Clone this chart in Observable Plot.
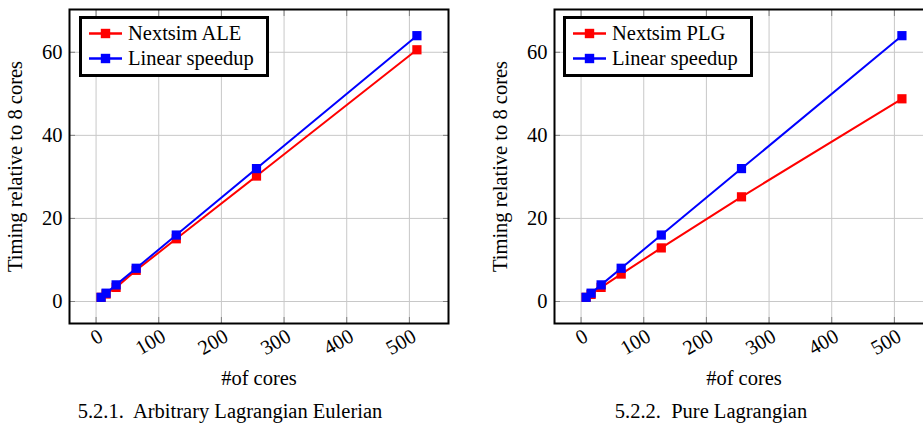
<!DOCTYPE html>
<html>
<head>
<meta charset="utf-8">
<script src="https://cdn.jsdelivr.net/npm/d3@7"></script>
<script src="https://cdn.jsdelivr.net/npm/@observablehq/plot@0.6"></script>
<style>
  html, body { margin: 0; padding: 0; background: #fff; }
  #wrap { position: relative; width: 923px; height: 425px; overflow: hidden; font-family: 'Liberation Serif', 'Times New Roman', serif; color: #000; }
  .panel { position: absolute; top: 0; }
  .panel svg { max-width: none !important; }
  .panel svg text, .legend text { font-family: 'Liberation Serif', 'Times New Roman', serif !important; }
  .legend { position: absolute; }
  .caption { position: absolute; width: 420px; text-align: center; font-size: 20.5px; line-height: 20.5px; white-space: pre; }
</style>
</head>
<body>
<div id="wrap"></div>
<script>
// ---- data ----
const cores = [8, 16, 32, 64, 128, 256, 512];
const linearSpeedup = [1, 2, 4, 8, 16, 32, 64];
const nextsimALE = [1, 1.8, 3.4, 7.5, 15.1, 30.2, 60.6];
const nextsimPLG = [1, 1.7, 3.4, 6.6, 12.9, 25.2, 48.8];
const xTicks = [0, 100, 200, 300, 400, 500];
const yTicks = [0, 20, 40, 60];
const seriesColors = ["#ff0000", "#0000ff"];
const panelNames = ["Nextsim ALE", "Nextsim PLG"];
const linearName = "Linear speedup";
const captions = ["5.2.1.  Arbitrary Lagrangian Eulerian", "5.2.2.  Pure Lagrangian"];
const xLabel = "#of cores";
const yLabel = "Timing relative to 8 cores";

const wrap = document.getElementById("wrap");
const FONT = "'Liberation Serif', 'Times New Roman', serif";

function makePanel(values, name, caption, cfg) {
  const rowsA = cores.map((c, i) => ({cores: c, v: values[i]}));
  const rowsB = cores.map((c, i) => ({cores: c, v: linearSpeedup[i]}));
  const tickColor = "#808080";
  const chart = Plot.plot({
    width: cfg.width,
    height: 395,
    marginLeft: cfg.marginLeft,
    marginRight: cfg.marginRight,
    marginTop: 9,
    marginBottom: 72,
    x: {domain: [8 - 50.4, 512 + 50.4]},
    y: {domain: [1 - 6.3, 64 + 6.3]},
    style: {fontFamily: FONT, fontSize: "20.5px", background: "white", color: "black", maxWidth: "none"},
    marks: [
      Plot.gridX(xTicks, {stroke: "#c8c8c8", strokeOpacity: 1, strokeWidth: 1}),
      Plot.gridY(yTicks, {stroke: "#c8c8c8", strokeOpacity: 1, strokeWidth: 1}),
      Plot.axisX({ticks: xTicks, anchor: "bottom", tickSize: -6, stroke: tickColor, tickFormat: () => "", label: null}),
      Plot.axisX({ticks: xTicks, anchor: "top", tickSize: -6, stroke: tickColor, tickFormat: () => "", label: null}),
      Plot.axisY({ticks: yTicks, anchor: "left", tickSize: -6, stroke: tickColor, tickFormat: () => "", label: null}),
      Plot.axisY({ticks: yTicks, anchor: "right", tickSize: -6, stroke: tickColor, tickFormat: () => "", label: null}),
      Plot.axisX({ticks: xTicks, anchor: "bottom", tickSize: 0, tickPadding: 11, tickRotate: -30, dx: 5,
                  label: xLabel, labelAnchor: "center", labelOffset: 61, labelArrow: "none", fill: "black"}),
      Plot.axisY({ticks: yTicks, anchor: "left", tickSize: 0, tickPadding: 7,
                  label: yLabel, labelAnchor: "center", labelOffset: 62, labelArrow: "none", fill: "black"}),
      Plot.line(rowsA, {x: "cores", y: "v", stroke: seriesColors[0], strokeWidth: 2}),
      Plot.dot(rowsA, {x: "cores", y: "v", symbol: "square", fill: seriesColors[0], r: 5.2}),
      Plot.line(rowsB, {x: "cores", y: "v", stroke: seriesColors[1], strokeWidth: 2}),
      Plot.dot(rowsB, {x: "cores", y: "v", symbol: "square", fill: seriesColors[1], r: 5.2}),
      Plot.frame({stroke: "black", strokeWidth: 2})
    ]
  });
  const holder = document.createElement("div");
  holder.className = "panel";
  holder.style.left = cfg.left + "px";
  holder.style.width = cfg.width + "px";
  holder.appendChild(chart);
  wrap.appendChild(holder);

  // legend
  const lg = d3.create("svg")
    .attr("class", "legend")
    .attr("width", 190).attr("height", 61)
    .style("left", (cfg.legendLeft - 1) + "px").style("top", "16px");
  lg.append("rect").attr("x", 1.5).attr("y", 1.5).attr("width", 187).attr("height", 58)
    .attr("fill", "white").attr("stroke", "black").attr("stroke-width", 3);
  const entries = [name, linearName];
  entries.forEach((label, i) => {
    const cy = 17.5 + i * 25;
    lg.append("line").attr("x1", 10).attr("x2", 43).attr("y1", cy).attr("y2", cy)
      .attr("stroke", seriesColors[i]).attr("stroke-width", 2.5);
    lg.append("rect").attr("x", 26.5 - 4.7).attr("y", cy - 4.7).attr("width", 9.4).attr("height", 9.4)
      .attr("fill", seriesColors[i]);
    lg.append("text").attr("x", 49).attr("y", cy + 6.5).text(label)
      .style("font-family", FONT).style("font-size", "20.5px").attr("fill", "black");
  });
  wrap.appendChild(lg.node());

  const cap = document.createElement("div");
  cap.className = "caption";
  cap.style.left = (cfg.captionCenter - 210) + "px";
  cap.style.top = "401px";
  cap.textContent = caption;
  wrap.appendChild(cap);
}

makePanel(nextsimALE, panelNames[0], captions[0], {left: 0, width: 460, marginLeft: 69, marginRight: 12, legendLeft: 80, captionCenter: 230});
makePanel(nextsimPLG, panelNames[1], captions[1], {left: 460, width: 485, marginLeft: 94, marginRight: 12, legendLeft: 564, captionCenter: 711});
</script>
</body>
</html>
